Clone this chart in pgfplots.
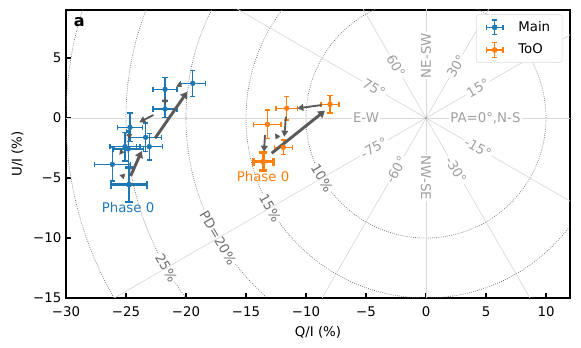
\documentclass[border=0pt]{standalone}
\usepackage{fontspec}
\setmainfont{DejaVu Sans}
\usepackage{pgfplots}
\usepackage{pgfplotstable}
\pgfplotsset{compat=1.18}
\usetikzlibrary{arrows.meta}
\definecolor{mplblue}{HTML}{1F77B4}
\definecolor{mplorange}{HTML}{FF7F0E}
\definecolor{arrowgray}{HTML}{5A5A5A}
\definecolor{labgray}{HTML}{A0A0A0}
\definecolor{pdgray}{HTML}{707070}
\definecolor{radgray}{HTML}{D8D8D8}

\pgfplotstableread{
x y ex ey
-19.44 2.89 1.04 1.08
-21.75 2.39 1.00 1.00
-21.75 0.75 1.00 0.70
-24.67 -0.78 1.05 1.20
-23.36 -1.61 1.30 1.20
-23.06 -2.39 1.08 1.10
-25.08 -2.39 1.25 1.20
-24.81 -2.58 1.25 1.50
-26.14 -3.86 1.50 1.40
}\mainpts
\pgfplotstableread{
x y ex ey
-24.75 -5.55 1.50 1.45
}\mainzero
\pgfplotstableread{
x y ex ey
-8.00 1.14 0.75 0.72
-11.61 0.81 0.90 0.97
-13.22 -0.53 1.15 1.20
-11.89 -2.44 0.74 0.60
}\toopts
\pgfplotstableread{
x y ex ey
-13.56 -3.64 0.83 0.75
}\toozero
% big arrows: x y u v
\pgfplotstableread{
x y u v
-24.61 -4.83 0.92 2.08
-22.58 -1.69 2.69 3.88
-12.86 -2.94 4.44 3.55
}\bigarrows
\pgfplotstableread{
x y u v
-22.72 0.25 -1.17 -0.61
-8.69 1.08 -2.03 -0.27
-11.67 0.11 -0.14 -1.67
-13.42 -1.42 -0.08 -1.39
}\medarrows
\pgfplotstableread{
x y u v
-20.36 2.83 -0.47 -0.22
-21.75 1.64 0.00 -0.56
-24.72 -1.42 0.00 -0.36
-25.36 -2.81 -0.20 -0.27
-25.28 -4.83 -0.28 0.08
-12.31 -1.69 -0.27 0.41
}\smallarrows

\begin{document}
\begin{tikzpicture}
\begin{axis}[
  scale only axis,
  width=378pt, height=216pt,
  xmin=-30, xmax=12, ymin=-15, ymax=9,
  xtick={-30,-25,-20,-15,-10,-5,0,5,10},
  xticklabels={−30,−25,−20,−15,−10,−5,0,5,10},
  ytick={-15,-10,-5,0,5},
  yticklabels={−15,−10,−5,0,5},
  tick pos=left,
  tick align=inside,
  major tick length=3.5pt,
  every tick/.style={black, line width=0.8pt},
  axis line style={line width=0.8pt},
  tick label style={font=\normalsize},
  xticklabel style={yshift=-3pt},
  xlabel={Q/I (\%)}, ylabel={U/I (\%)},
  xlabel style={yshift=0pt},
  ylabel style={yshift=0.5pt},
  legend style={at={(0.985,0.985)}, anchor=north east, draw=black!15,
    rounded corners=2pt, fill=white, font=\normalsize, row sep=4pt,
    column sep=9pt, inner xsep=7pt, inner ysep=3pt, cells={anchor=west}},
  legend cell align=left,
]
% polar grid: dotted PD circles
\pgfplotsinvokeforeach{10,15,20,25,30}{
  \draw[pdgray, line width=0.5pt, dash pattern=on 0.6pt off 1pt] (axis cs:0,0) circle[radius=#1];
}
% PD labels
\node[pdgray, rotate=-60, fill=white, inner sep=1pt] at (axis cs:{10*cos(210)},{10*sin(210)}) {10\%};
\node[pdgray, rotate=-60, fill=white, inner sep=1pt] at (axis cs:{15*cos(210)},{15*sin(210)}) {15\%};
\node[pdgray, rotate=-60, fill=white, inner sep=1pt] at (axis cs:{20*cos(210)},{20*sin(210)}) {PD=20\%};
\node[pdgray, rotate=-60, fill=white, inner sep=1pt] at (axis cs:{25*cos(210)},{25*sin(210)}) {25\%};
% radial lines
\pgfplotsinvokeforeach{0,30,60,90,120,150}{
  \draw[radgray, line width=0.5pt] (axis cs:{-45*cos(#1)},{-45*sin(#1)}) -- (axis cs:{45*cos(#1)},{45*sin(#1)});
}
\fill[labgray] (axis cs:0,0) circle[radius=0.12];
% PA labels
\node[labgray, fill=white, inner sep=1pt] at (axis cs:4.95,0) {PA=0°,N-S};
\node[labgray, fill=white, inner sep=1pt, rotate=30] at (axis cs:{5*cos(30)},{5*sin(30)}) {15°};
\node[labgray, fill=white, inner sep=1pt, rotate=60] at (axis cs:{5*cos(60)},{5*sin(60)}) {30°};
\node[labgray, fill=white, inner sep=1pt, rotate=90] at (axis cs:0,5.2) {NE-SW};
\node[labgray, fill=white, inner sep=1pt, rotate=-60] at (axis cs:{5*cos(120)},{5*sin(120)}) {60°};
\node[labgray, fill=white, inner sep=1pt, rotate=-30] at (axis cs:{5*cos(150)},{5*sin(150)}) {75°};
\node[labgray, fill=white, inner sep=1pt] at (axis cs:-5,0) {E-W};
\node[labgray, fill=white, inner sep=1pt, rotate=30] at (axis cs:{5*cos(210)},{5*sin(210)}) {-75°};
\node[labgray, fill=white, inner sep=1pt, rotate=60] at (axis cs:{5*cos(240)},{5*sin(240)}) {-60°};
\node[labgray, fill=white, inner sep=1pt, rotate=-90] at (axis cs:0,-5) {NW-SE};
\node[labgray, fill=white, inner sep=1pt, rotate=-60] at (axis cs:{5*cos(300)},{5*sin(300)}) {-30°};
\node[labgray, fill=white, inner sep=1pt, rotate=-30] at (axis cs:{5*cos(330)},{5*sin(330)}) {-15°};

% legend images
\addlegendimage{legend image code/.code={
  \draw[mplblue, line width=1pt] (0pt,0pt) -- (12.5pt,0pt);
  \draw[mplblue, line width=1pt] (6.25pt,-5.5pt) -- (6.25pt,5.5pt);
  \draw[mplblue, line width=1pt] (0pt,-2pt)--(0pt,2pt) (12.5pt,-2pt)--(12.5pt,2pt) (4.25pt,-5.5pt)--(8.25pt,-5.5pt) (4.25pt,5.5pt)--(8.25pt,5.5pt);
  \fill[mplblue] (6.25pt,0pt) circle (1.9pt);}}
\addlegendentry{Main}
\addlegendimage{legend image code/.code={
  \draw[mplorange, line width=1pt] (0pt,0pt) -- (12.5pt,0pt);
  \draw[mplorange, line width=1pt] (6.25pt,-5.5pt) -- (6.25pt,5.5pt);
  \draw[mplorange, line width=1pt] (0pt,-2pt)--(0pt,2pt) (12.5pt,-2pt)--(12.5pt,2pt) (4.25pt,-5.5pt)--(8.25pt,-5.5pt) (4.25pt,5.5pt)--(8.25pt,5.5pt);
  \fill[mplorange] (6.25pt,0pt) circle (1.9pt);}}
\addlegendentry{ToO}

% data
\addplot[mplblue, only marks, mark=*, mark size=1.8pt, forget plot,
  error bars/.cd, x dir=both, x explicit, y dir=both, y explicit,
  error bar style={line width=1pt},
  error mark options={rotate=90, mplblue, line width=1pt, mark size=2pt}]
  table[x=x, y=y, x error=ex, y error=ey] {\mainpts};
\addplot[mplblue, only marks, mark=*, mark size=2pt, forget plot,
  error bars/.cd, x dir=both, x explicit, y dir=both, y explicit,
  error bar style={line width=2pt},
  error mark options={rotate=90, mplblue, line width=2pt, mark size=3pt}]
  table[x=x, y=y, x error=ex, y error=ey] {\mainzero};
\addplot[mplorange, only marks, mark=*, mark size=1.8pt, forget plot,
  error bars/.cd, x dir=both, x explicit, y dir=both, y explicit,
  error bar style={line width=1pt},
  error mark options={rotate=90, mplorange, line width=1pt, mark size=2pt}]
  table[x=x, y=y, x error=ex, y error=ey] {\toopts};
\addplot[mplorange, only marks, mark=*, mark size=2pt, forget plot,
  error bars/.cd, x dir=both, x explicit, y dir=both, y explicit,
  error bar style={line width=2pt},
  error mark options={rotate=90, mplorange, line width=2pt, mark size=3pt}]
  table[x=x, y=y, x error=ex, y error=ey] {\toozero};

% arrows
\addplot[arrowgray, line width=2.2pt, forget plot,
  quiver={u=\thisrow{u}, v=\thisrow{v}},
  -{Triangle[length=5pt, width=6pt]}]
  table {\bigarrows};
\addplot[arrowgray, line width=1.4pt, forget plot,
  quiver={u=\thisrow{u}, v=\thisrow{v}},
  -{Triangle[length=4.5pt, width=5pt]}]
  table {\medarrows};
\addplot[arrowgray, line width=0.8pt, forget plot,
  quiver={u=\thisrow{u}, v=\thisrow{v}},
  -{Triangle[length=4pt, width=4pt]}]
  table {\smallarrows};

\node[mplblue] at (axis cs:-24.83,-7.5) {Phase 0};
\node[mplorange] at (axis cs:-13.58,-4.9) {Phase 0};
\node[anchor=north west, font=\bfseries\large, inner sep=0pt] at (rel axis cs:0.015,0.975) {a};

\coordinate (ll) at (rel axis cs:0,0);
\coordinate (ur) at (rel axis cs:1,1);
\end{axis}
\pgfresetboundingbox
\path[use as bounding box] ([xshift=-49.5pt,yshift=-37.5pt]ll) rectangle ([xshift=8.25pt,yshift=7.5pt]ur);
\end{tikzpicture}
\end{document}
